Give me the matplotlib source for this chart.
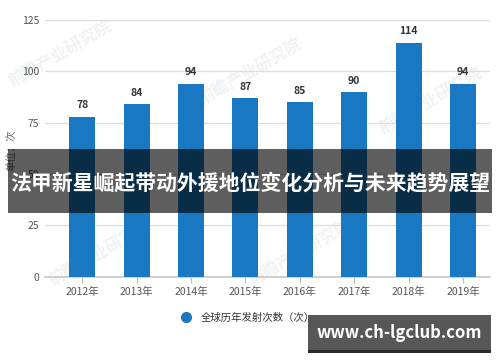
import matplotlib
matplotlib.use("Agg")
import matplotlib.pyplot as plt
from matplotlib.lines import Line2D
from matplotlib.patches import Rectangle

plt.rcParams['font.family'] = ['Noto Sans CJK SC', 'DejaVu Sans']

# data
years = ["2012年", "2013年", "2014年", "2015年", "2016年", "2017年", "2018年", "2019年"]
launches = [78, 84, 94, 87, 85, 90, 114, 94]
yticks = [0, 25, 50, 75, 100, 125]

title = "法甲新星崛起带动外援地位变化分析与未来趋势展望"
series_name = "全球历年发射次数（次）"
unit_label = "单位：次"
site = "www.ch-lgclub.com"
source = "前瞻经济学人APP"
watermark = "前瞻产业研究院"

bar_color = "#1a78c2"

fig = plt.figure(figsize=(5.0, 3.62), dpi=100)

# very faint watermarks behind the axes
for wx, wy in [(0.12, 0.85), (0.50, 0.80), (0.86, 0.72), (0.60, 0.30), (0.20, 0.30)]:
    fig.text(wx, wy, watermark, rotation=30, fontsize=12, color="#f0f2f5",
             ha="center", va="center", fontweight="bold", zorder=-1)

ax = fig.add_axes([0.09, 0.2356, 0.89, 0.7092])
ax.patch.set_alpha(0)

x = range(len(years))
bars = ax.bar(x, launches, width=0.48, color=bar_color, zorder=3)
for b, v in zip(bars, launches):
    ax.text(b.get_x() + b.get_width() / 2, v + 3, str(v), ha="center", va="bottom",
            fontsize=7.5, fontweight="bold", color="#333333", zorder=4)

ax.set_xlim(-0.684, 7.496)
ax.set_ylim(0, 125)
ax.set_yticks(yticks)
ax.set_xticks(list(x))
ax.set_xticklabels(years)
ax.yaxis.grid(True, color="#dddddd", linewidth=0.9, zorder=0)
ax.tick_params(axis="y", length=0, labelsize=7.5, labelcolor="#555555", pad=4)
ax.tick_params(axis="x", length=4, color="#bbbbbb", labelsize=7.5, labelcolor="#555555", pad=3)
for s in ["top", "right", "left"]:
    ax.spines[s].set_visible(False)
ax.spines["bottom"].set_color("#c8c8c8")
ax.spines["bottom"].set_linewidth(1.2)

fig.text(0.022, 1 - 150 / 362, unit_label, rotation=90, fontsize=7.5, color="#666666",
         ha="center", va="center")

# legend
handle = Line2D([], [], marker="o", linestyle="none", markersize=7,
                markerfacecolor=bar_color, markeredgecolor=bar_color)
fig.legend([handle], [series_name], loc="center", bbox_to_anchor=(0.49, 0.122),
           frameon=False, fontsize=7.5, handletextpad=0.4, labelcolor="#333333")

# banner overlay
fig.patches.append(Rectangle((0.016, 1 - 212.7 / 362), 0.968, (212.7 - 149) / 362,
                             transform=fig.transFigure, facecolor="black", alpha=0.63,
                             edgecolor="none", zorder=10))
fig.text(0.5, 1 - 183 / 362, title, ha="center", va="center", color="white",
         fontsize=15, fontweight="bold", zorder=11)

# source text and site box
fig.text(0.975, 1 - 341 / 362, source, ha="right", va="center",
         fontsize=7.5, color="#888888", zorder=5)
fig.patches.append(Rectangle((308 / 500, 1 - 353 / 362), 183 / 500, 38 / 362,
                             transform=fig.transFigure, facecolor="#111111",
                             edgecolor="none", alpha=0.9, zorder=12))
fig.patches.append(Rectangle((308 / 500, 1 - 350 / 362), 183 / 500, 35 / 362,
                             transform=fig.transFigure, facecolor="#5a5a5a",
                             edgecolor="none", alpha=0.95, zorder=13))
fig.text(399 / 500, 1 - 333 / 362, site, ha="center", va="center", color="white",
         fontsize=12, fontweight="bold", zorder=14)

fig.savefig("out.png", dpi=100)
